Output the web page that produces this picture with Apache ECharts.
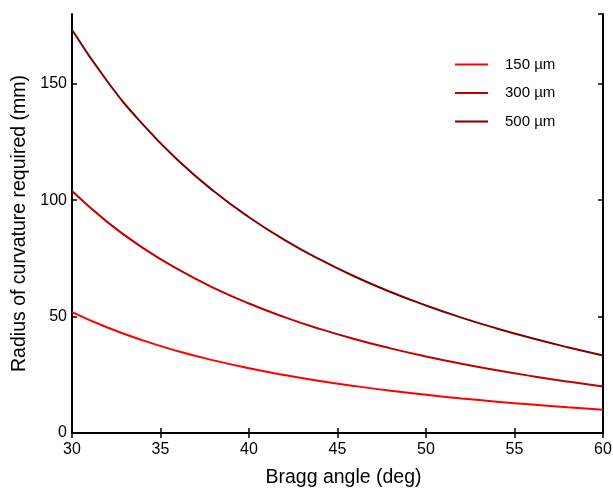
<!DOCTYPE html>
<html>
<head>
<meta charset="utf-8">
<script src="https://cdn.jsdelivr.net/npm/echarts@6/dist/echarts.min.js"></script>
<style>
html,body{margin:0;padding:0;background:#fff;}
#chart{width:613px;height:489px;}
</style>
</head>
<body>
<div id="chart"></div>
<script>
// Bragg angle (deg)
var angles = [30, 32, 34, 36, 38, 40, 42, 44, 46, 48, 50, 52, 54, 56, 58, 60];
// Radius of curvature required (mm)
var r150 = [51.96, 45.30, 39.77, 35.12, 31.19, 27.81, 24.90, 22.36, 20.14, 18.17, 16.43, 14.87, 13.47, 12.20, 11.05, 10.00];
var r300 = [103.92, 90.60, 79.54, 70.25, 62.37, 55.62, 49.79, 44.72, 40.28, 36.35, 32.86, 29.75, 26.94, 24.41, 22.10, 20.00];
var r500 = [173.21, 151.00, 132.57, 117.08, 103.95, 92.70, 82.99, 74.54, 67.13, 60.58, 54.77, 49.58, 44.91, 40.68, 36.84, 33.33];
var seriesNames = ['150 µm', '300 µm', '500 µm'];
var seriesColors = ['#ff0000', '#c00000', '#800000'];

function pairs(ys) { return angles.map(function (a, i) { return [a, ys[i]]; }); }
var allData = [r150, r300, r500];

var font = 'Liberation Sans, Arial, sans-serif';
var axisLine = { show: true, lineStyle: { color: '#000', width: 2 } };

var chart = echarts.init(document.getElementById('chart'), null, { renderer: 'canvas' });
chart.setOption({
  animation: false,
  backgroundColor: '#fff',
  grid: { left: 72, right: 10, top: 14, bottom: 56, outerBoundsMode: 'none', containLabel: false },
  legend: {
    orient: 'vertical',
    left: 455,
    top: 56,
    padding: 0,
    icon: 'rect',
    itemWidth: 33,
    itemHeight: 2,
    itemGap: 11.5,
    data: seriesNames,
    textStyle: { fontFamily: font, fontSize: 15, color: '#000', padding: [0, 0, 0, 12], lineHeight: 17 }
  },
  xAxis: [{
    type: 'value', min: 30, max: 60, interval: 5,
    name: 'Bragg angle (deg)', nameLocation: 'middle', nameGap: 35,
    nameTextStyle: { fontFamily: font, fontSize: 19.5, color: '#000', padding: [0, 0, 0, 12] },
    axisLine: axisLine,
    axisTick: { show: true, inside: true, length: 5, lineStyle: { color: '#000', width: 1.5 } },
    axisLabel: { fontFamily: font, fontSize: 16, color: '#000', margin: 9 },
    splitLine: { show: false }
  }, {
    type: 'value', min: 30, max: 60, interval: 5, position: 'top',
    axisLine: axisLine,
    axisTick: { show: true, inside: true, length: 5, lineStyle: { color: '#000', width: 1.5 } },
    axisLabel: { show: false },
    splitLine: { show: false }
  }],
  yAxis: [{
    type: 'value', min: 0, max: 180, interval: 50,
    name: 'Radius of curvature required (mm)', nameLocation: 'middle', nameGap: 36,
    nameTextStyle: { fontFamily: font, fontSize: 19.5, color: '#000' },
    axisLine: axisLine,
    axisTick: { show: true, inside: true, length: 5, lineStyle: { color: '#000', width: 1.5 } },
    axisLabel: { fontFamily: font, fontSize: 16, color: '#000', margin: 5, showMaxLabel: false },
    splitLine: { show: false }
  }, {
    type: 'value', min: 0, max: 180, interval: 50, position: 'right',
    axisLine: axisLine,
    axisTick: { show: true, inside: true, length: 5, lineStyle: { color: '#000', width: 1.5 } },
    axisLabel: { show: false },
    splitLine: { show: false }
  }],
  series: seriesNames.map(function (n, i) {
    return {
      name: n, type: 'line', xAxisIndex: 0, yAxisIndex: 0,
      data: pairs(allData[i]), smooth: true, symbol: 'none',
      lineStyle: { color: seriesColors[i], width: 2 },
      itemStyle: { color: seriesColors[i] }
    };
  })
});
</script>
</body>
</html>
